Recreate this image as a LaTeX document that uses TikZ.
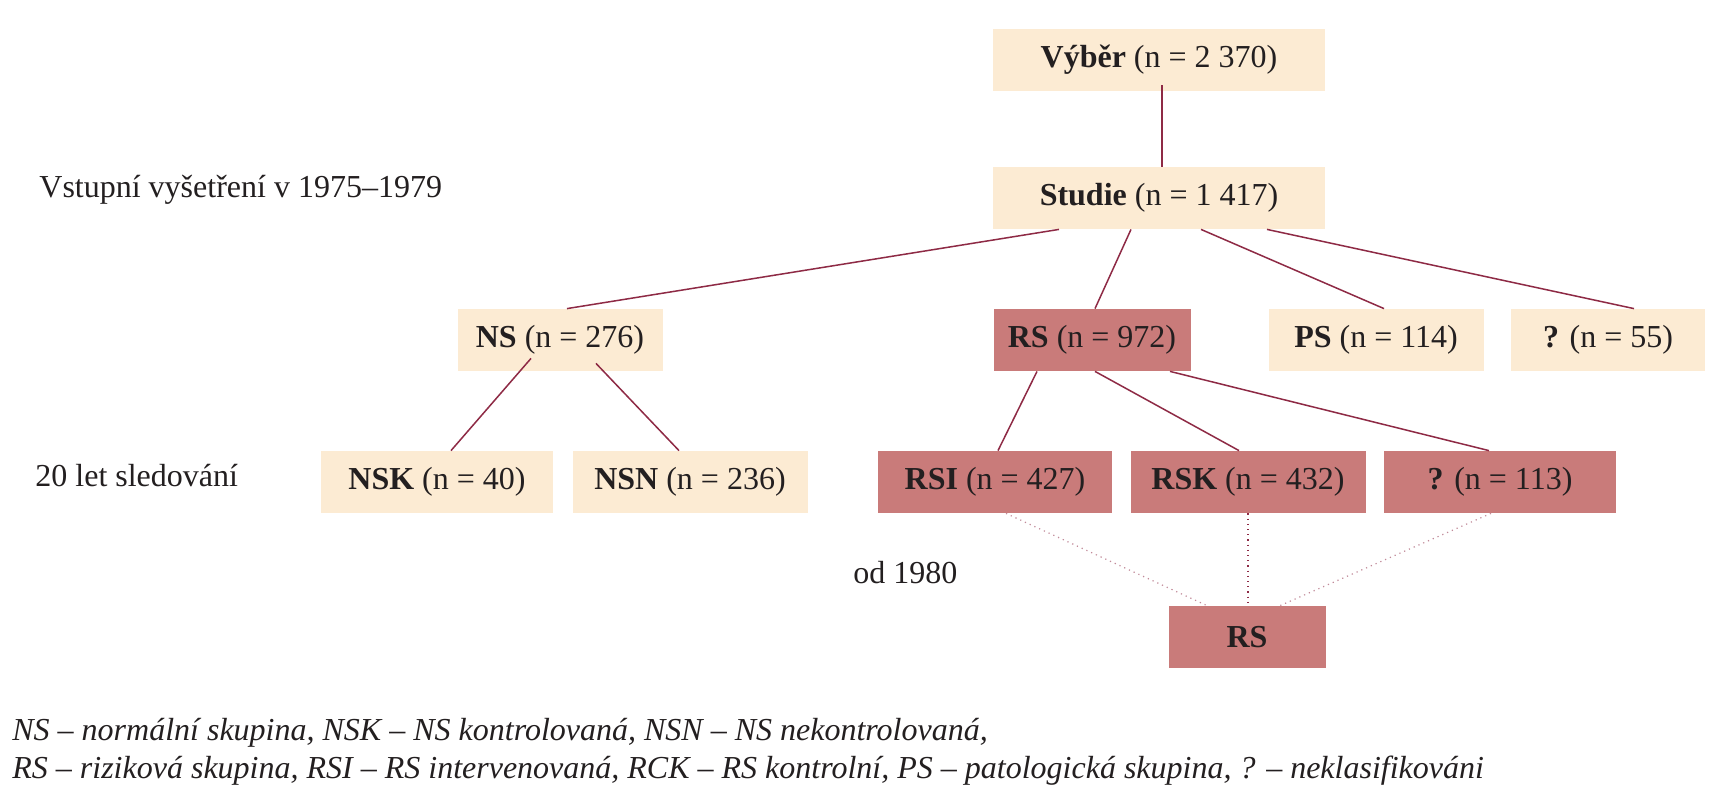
\documentclass[tikz,border=0pt]{standalone}
\usepackage{fontspec}
\setmainfont{Liberation Serif}
\usetikzlibrary{calc}
\definecolor{cream}{HTML}{FCEBD3}
\definecolor{rose}{HTML}{C97B7A}
\definecolor{wine}{HTML}{8E2A45}
\definecolor{ink}{HTML}{231F20}
\tikzset{
  box/.style={inner sep=0pt, minimum height=31pt, text=ink, font=\fontsize{16}{19}\selectfont},
  light/.style={box, fill=cream},
  dark/.style={box, fill=rose},
  bw/.style={minimum width=#1*0.5pt},
  lbl/.style={anchor=west, inner sep=0pt, text=ink, font=\fontsize{16}{19}\selectfont},
  leg/.style={anchor=base west, inner sep=0pt, text=ink, font=\fontsize{16}{19}\selectfont\itshape},
  link/.style={draw=wine, line width=0.75pt},
  dots/.style={draw=wine, line width=0.6pt, dotted},
  faintdots/.style={draw=wine!55, line width=0.6pt, dotted}
}
\begin{document}
\begin{tikzpicture}[x=0.5pt, y=-0.5pt]
\useasboundingbox[fill=white] (0,0) rectangle (1736,800);
% boxes
\node[light, bw=332] (vyber) at (1159,60) {\textbf{Výběr} (n = 2 370)};
\node[light, bw=332] (studie) at (1159,198) {\textbf{Studie} (n = 1 417)};
\node[light, bw=205] (ns) at (560,340) {\textbf{NS} (n = 276)};
\node[dark, bw=197] (rs) at (1092,340) {\textbf{RS} (n = 972)};
\node[light, bw=215] (ps) at (1376,340) {\textbf{PS} (n = 114)};
\node[light, bw=194] (q1) at (1608,340) {\textbf{?} (n = 55)};
\node[light, bw=232] (nsk) at (437,482) {\textbf{NSK} (n = 40)};
\node[light, bw=235] (nsn) at (690,482) {\textbf{NSN} (n = 236)};
\node[dark, bw=234] (rsi) at (995,482) {\textbf{RSI} (n = 427)};
\node[dark, bw=235] (rsk) at (1248,482) {\textbf{RSK} (n = 432)};
\node[dark, bw=232] (q2) at (1500,482) {\textbf{?} (n = 113)};
\node[dark, bw=157] (rsb) at (1247,637) {\textbf{RS}};
% side labels
\node[lbl] (l1) at (39,190) {Vstupní vyšetření v 1975–1979};
\node[lbl] (l2) at (35,476) {20 let sledování};
\node[lbl] (l3) at (853,573) {od 1980};
% connectors
\draw[link] ([xshift=1.5pt, yshift=3pt]vyber.south) -- ([xshift=1.5pt]studie.north);
\draw[link] ([xshift=-50pt]studie.south) -- ([xshift=3.5pt]ns.north);
\draw[link] ([xshift=-14pt]studie.south) -- ([xshift=1.5pt]rs.north);
\draw[link] ([xshift=21pt]studie.south) -- ([xshift=4pt]ps.north);
\draw[link] ([xshift=54pt]studie.south) -- ([xshift=13pt]q1.north);
\draw[link] ([xshift=-14.5pt, yshift=6.5pt]ns.south) -- ([xshift=7pt]nsk.north);
\draw[link] ([xshift=18pt, yshift=4pt]ns.south) -- ([xshift=-5.5pt]nsn.north);
\draw[link] ([xshift=-27.5pt]rs.south) -- ([xshift=1.5pt]rsi.north);
\draw[link] ([xshift=1.5pt]rs.south) -- ([xshift=-4.5pt]rsk.north);
\draw[link] ([xshift=39pt]rs.south) -- ([xshift=-5.5pt]q2.north);
\draw[faintdots] ([xshift=5.5pt]rsi.south) -- ([xshift=-20pt]rsb.north);
\draw[dots] (rsk.south) -- (rsk.south |- rsb.north);
\draw[faintdots] ([xshift=-4.5pt]q2.south) -- ([xshift=16.5pt]rsb.north);
% legend
\node[leg] (g1) at (12,740) {NS – normální skupina, NSK – NS kontrolovaná, NSN – NS nekontrolovaná,};
\node[leg] (g2) at (12,778) {RS – riziková skupina, RSI – RS intervenovaná, RCK – RS kontrolní, PS – patologická skupina, ? – neklasifikováni};
\end{tikzpicture}
\end{document}
